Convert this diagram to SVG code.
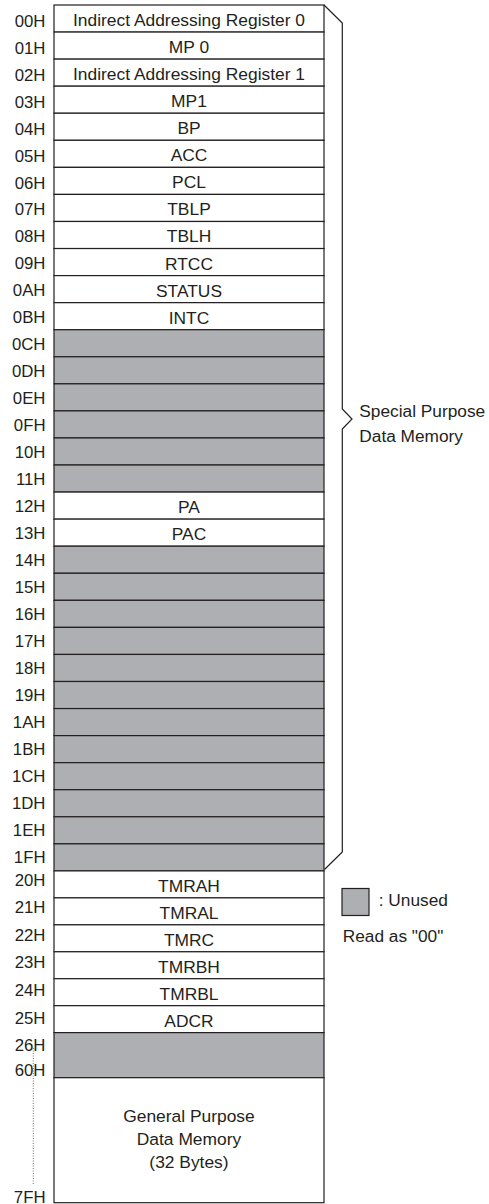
<svg xmlns="http://www.w3.org/2000/svg" width="489" height="1204" viewBox="0 0 489 1204">
<style>
.t{font-family:"Liberation Sans",Arial,sans-serif;font-size:17.4px;fill:#231f20;text-anchor:middle}
.a{font-family:"Liberation Sans",Arial,sans-serif;font-size:16.8px;fill:#231f20;text-anchor:end}
.l{font-family:"Liberation Sans",Arial,sans-serif;font-size:17.3px;fill:#231f20}
.w{fill:#ffffff;stroke:#231f20;stroke-width:1.2}
.g{fill:#aeafb2;stroke:#231f20;stroke-width:1.2}
.br{fill:none;stroke:#231f20;stroke-width:1.2}
</style>
<rect width="489" height="1204" fill="#ffffff"/>
<g id="rows-special">
<g id="r00"><rect class="w" x="54" y="5" width="270" height="27.06"/><text class="t" x="189" y="26">Indirect Addressing Register 0</text></g>
<g id="r01"><rect class="w" x="54" y="32.06" width="270" height="27.06"/><text class="t" x="189" y="53.06">MP 0</text></g>
<g id="r02"><rect class="w" x="54" y="59.12" width="270" height="27.06"/><text class="t" x="189" y="80.12">Indirect Addressing Register 1</text></g>
<g id="r03"><rect class="w" x="54" y="86.18" width="270" height="27.06"/><text class="t" x="189" y="107.18">MP1</text></g>
<g id="r04"><rect class="w" x="54" y="113.24" width="270" height="27.06"/><text class="t" x="189" y="134.24">BP</text></g>
<g id="r05"><rect class="w" x="54" y="140.3" width="270" height="27.06"/><text class="t" x="189" y="161.3">ACC</text></g>
<g id="r06"><rect class="w" x="54" y="167.36" width="270" height="27.06"/><text class="t" x="189" y="188.36">PCL</text></g>
<g id="r07"><rect class="w" x="54" y="194.42" width="270" height="27.06"/><text class="t" x="189" y="215.42">TBLP</text></g>
<g id="r08"><rect class="w" x="54" y="221.48" width="270" height="27.06"/><text class="t" x="189" y="242.48">TBLH</text></g>
<g id="r09"><rect class="w" x="54" y="248.54" width="270" height="27.06"/><text class="t" x="189" y="269.54">RTCC</text></g>
<g id="r0A"><rect class="w" x="54" y="275.6" width="270" height="27.06"/><text class="t" x="189" y="296.6">STATUS</text></g>
<g id="r0B"><rect class="w" x="54" y="302.66" width="270" height="27.06"/><text class="t" x="189" y="323.66">INTC</text></g>
<g id="r0C"><rect class="g" x="54" y="329.72" width="270" height="27.06"/></g>
<g id="r0D"><rect class="g" x="54" y="356.78" width="270" height="27.06"/></g>
<g id="r0E"><rect class="g" x="54" y="383.84" width="270" height="27.06"/></g>
<g id="r0F"><rect class="g" x="54" y="410.9" width="270" height="27.06"/></g>
<g id="r10"><rect class="g" x="54" y="437.96" width="270" height="27.06"/></g>
<g id="r11"><rect class="g" x="54" y="465.02" width="270" height="27.06"/></g>
<g id="r12"><rect class="w" x="54" y="492.08" width="270" height="27.06"/><text class="t" x="189" y="513.08">PA</text></g>
<g id="r13"><rect class="w" x="54" y="519.14" width="270" height="27.06"/><text class="t" x="189" y="540.14">PAC</text></g>
<g id="r14"><rect class="g" x="54" y="546.2" width="270" height="27.06"/></g>
<g id="r15"><rect class="g" x="54" y="573.26" width="270" height="27.06"/></g>
<g id="r16"><rect class="g" x="54" y="600.32" width="270" height="27.06"/></g>
<g id="r17"><rect class="g" x="54" y="627.38" width="270" height="27.06"/></g>
<g id="r18"><rect class="g" x="54" y="654.44" width="270" height="27.06"/></g>
<g id="r19"><rect class="g" x="54" y="681.5" width="270" height="27.06"/></g>
<g id="r1A"><rect class="g" x="54" y="708.56" width="270" height="27.06"/></g>
<g id="r1B"><rect class="g" x="54" y="735.62" width="270" height="27.06"/></g>
<g id="r1C"><rect class="g" x="54" y="762.68" width="270" height="27.06"/></g>
<g id="r1D"><rect class="g" x="54" y="789.74" width="270" height="27.06"/></g>
<g id="r1E"><rect class="g" x="54" y="816.8" width="270" height="27.06"/></g>
<g id="r1F"><rect class="g" x="54" y="843.86" width="270" height="27.06"/></g>
</g>
<g id="rows-lower">
<g id="r20"><rect class="w" x="54" y="870.92" width="270" height="26.95"/><text class="t" x="189" y="892.2">TMRAH</text></g>
<g id="r21"><rect class="w" x="54" y="897.87" width="270" height="26.95"/><text class="t" x="189" y="919.1">TMRAL</text></g>
<g id="r22"><rect class="w" x="54" y="924.82" width="270" height="26.95"/><text class="t" x="189" y="946.1">TMRC</text></g>
<g id="r23"><rect class="w" x="54" y="951.77" width="270" height="26.95"/><text class="t" x="189" y="973">TMRBH</text></g>
<g id="r24"><rect class="w" x="54" y="978.72" width="270" height="26.95"/><text class="t" x="189" y="1000">TMRBL</text></g>
<g id="r25"><rect class="w" x="54" y="1005.67" width="270" height="26.95"/><text class="t" x="189" y="1026.9">ADCR</text></g>
<g id="r26-60"><rect class="g" x="54" y="1032.62" width="270" height="45.08"/></g>
<g id="gpdm"><rect class="w" x="54" y="1077.7" width="270" height="125"/>
<text class="t" x="189" y="1122.3">General Purpose</text>
<text class="t" x="189" y="1145.3">Data Memory</text>
<text class="t" x="189" y="1168.3">(32 Bytes)</text></g>
</g>
<g id="addresses">
<text class="a" x="45.5" y="26.7">00H</text>
<text class="a" x="45.5" y="53.67">01H</text>
<text class="a" x="45.5" y="80.64">02H</text>
<text class="a" x="45.5" y="107.61">03H</text>
<text class="a" x="45.5" y="134.58">04H</text>
<text class="a" x="45.5" y="161.55">05H</text>
<text class="a" x="45.5" y="188.52">06H</text>
<text class="a" x="45.5" y="215.49">07H</text>
<text class="a" x="45.5" y="242.46">08H</text>
<text class="a" x="45.5" y="269.43">09H</text>
<text class="a" x="45.5" y="296.4">0AH</text>
<text class="a" x="45.5" y="323.37">0BH</text>
<text class="a" x="45.5" y="350.34">0CH</text>
<text class="a" x="45.5" y="377.31">0DH</text>
<text class="a" x="45.5" y="404.28">0EH</text>
<text class="a" x="45.5" y="431.25">0FH</text>
<text class="a" x="45.5" y="458.22">10H</text>
<text class="a" x="45.5" y="485.19">11H</text>
<text class="a" x="45.5" y="512.16">12H</text>
<text class="a" x="45.5" y="539.13">13H</text>
<text class="a" x="45.5" y="566.1">14H</text>
<text class="a" x="45.5" y="593.07">15H</text>
<text class="a" x="45.5" y="620.04">16H</text>
<text class="a" x="45.5" y="647.01">17H</text>
<text class="a" x="45.5" y="673.98">18H</text>
<text class="a" x="45.5" y="700.95">19H</text>
<text class="a" x="45.5" y="727.92">1AH</text>
<text class="a" x="45.5" y="754.89">1BH</text>
<text class="a" x="45.5" y="781.86">1CH</text>
<text class="a" x="45.5" y="808.83">1DH</text>
<text class="a" x="45.5" y="835.8">1EH</text>
<text class="a" x="45.5" y="862.77">1FH</text>
<text class="a" x="45.5" y="886">20H</text>
<text class="a" x="45.5" y="913">21H</text>
<text class="a" x="45.5" y="940.5">22H</text>
<text class="a" x="45.5" y="968">23H</text>
<text class="a" x="45.5" y="996">24H</text>
<text class="a" x="45.5" y="1024">25H</text>
<line x1="33.3" y1="1048" x2="33.3" y2="1184" stroke="#6d6e71" stroke-width="1" stroke-dasharray="1 1.5"/>
<text class="a" x="45.5" y="1050.7">26H</text>
<text class="a" x="45.5" y="1076">60H</text>
<text class="a" x="45.5" y="1202.8">7FH</text>
</g>
<g id="connectors">
<path class="br" d="M324,5 L342.3,23 L342.3,409 L352,419 L342.3,429 L342.3,852 L324.5,869.5"/>
</g>
<g id="brace-label">
<text class="l" x="359.3" y="417.3">Special Purpose</text>
<text class="l" x="359.3" y="442">Data Memory</text>
</g>
<g id="legend">
<rect class="g" x="342" y="888.5" width="27" height="27"/>
<text class="l" x="378.7" y="905.7">: Unused</text>
<text class="l" x="342.7" y="941.7">Read as "00"</text>
</g>
</svg>
